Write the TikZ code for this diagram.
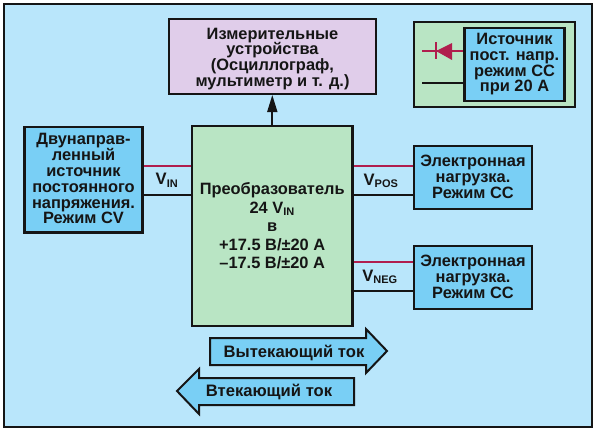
\documentclass[tikz,border=0pt]{standalone}
\usepackage{fontspec}
\setmainfont{Liberation Sans}
\usetikzlibrary{arrows.meta}
\definecolor{bgc}{HTML}{B9E6FB}
\definecolor{bluec}{HTML}{79CFF5}
\definecolor{greenc}{HTML}{B9E5C4}
\definecolor{purplec}{HTML}{E0CDEA}
\definecolor{redc}{HTML}{B01E4E}
\definecolor{inkc}{HTML}{151515}
\tikzset{
  x=1pt,y=-1pt,
  boxn/.style={draw=inkc,line width=2.4pt,inner sep=0pt,align=center,anchor=north west,text=inkc,font=\fontsize{16.4}{15.8}\selectfont\bfseries},
  bluebox/.style={boxn,fill=bluec},
  sz/.style 2 args={minimum width=#1pt,minimum height=#2pt},
  redline/.style={draw=redc,line width=1.9pt},
  blackline/.style={draw=inkc,line width=1.9pt},
  lbl/.style={text=inkc,inner sep=0pt,font=\fontsize{16.6}{18}\selectfont\bfseries},
  arrowshape/.style={draw=inkc,line width=2pt,fill=bluec,miter limit=10},
}
\newcommand{\subs}[1]{\textsubscript{\fontsize{11}{12}\selectfont #1}}
\begin{document}
\begin{tikzpicture}
\useasboundingbox (0,0) rectangle (596,431);
\fill[white] (0,0) rectangle (596,431);
\draw[draw=inkc,line width=2.4pt,fill=bgc] (4.2,4.2) rectangle (592.2,427);
\node[boxn,fill=purplec,sz={206.6}{74.6}] (meas) at (168,18) {\rule{0pt}{16pt}Измерительные\\устройства\\(Осциллограф,\\мультиметр и т. д.)};
\node[boxn,fill=greenc,sz={160.6}{199.6},font=\fontsize{16.4}{18.5}\selectfont\bfseries] (conv) at (190.7,125) {Преобразователь\\24 V\subs{IN}\\в\\+17.5 В/±20 А\\–17.5 В/±20 А};
\node[bluebox,sz={118}{105.3}] (src) at (23.3,126) {Двунаправ-\\ленный\\источник\\постоянного\\напряжения.\\Режим CV\rule[-2pt]{0pt}{2pt}};
\node[bluebox,sz={118.2}{62.6}] (load1) at (412.7,145) {Электронная\\нагрузка.\\Режим CC\rule[-2pt]{0pt}{2pt}};
\node[bluebox,sz={118.2}{62.6}] (load2) at (412.7,245) {Электронная\\нагрузка.\\Режим CC\rule[-2pt]{0pt}{2pt}};
\node[boxn,fill=greenc,sz={161}{84.6}] (panel) at (412.7,21) {};
\node[bluebox,sz={100}{72.9}] (isrc) at (463.3,26.7) {Источник\\пост. напр.\\режим CC\\при 20 А};
\coordinate (ya) at (0,166);
\coordinate (yb) at (0,195);
\coordinate (yc) at (0,262);
\coordinate (yd) at (0,291);
\coordinate (xa) at (272.3,0);
\draw[redline] (src.east|-ya) -- (conv.west|-ya);
\draw[blackline] (src.east|-yb) -- (conv.west|-yb);
\draw[redline] (conv.east|-ya) -- (load1.west|-ya);
\draw[blackline] (conv.east|-yb) -- (load1.west|-yb);
\draw[redline] (conv.east|-yc) -- (load2.west|-yc);
\draw[blackline] (conv.east|-yd) -- (load2.west|-yd);
\coordinate (ye) at (0,51);
\coordinate (yf) at (0,83);
\coordinate (pa) at (422,51);
\coordinate (pb) at (422,83);
\draw[redline] (pa) -- (isrc.west|-ye);
\draw[blackline] (pb) -- (isrc.west|-yf);
\fill[redc] (436,51) -- (452,43) -- (452,60) -- cycle;
\draw[redc,line width=1.9pt] (436,42) -- (436,59);
\draw[draw=inkc,line width=1.7pt,-{Triangle[length=17pt,width=10pt]}] (conv.north-|xa) -- (meas.south-|xa);
\node[lbl] (vin) at (167,180) {V\subs{IN}};
\node[lbl] (vpos) at (381,181) {V\subs{POS}};
\node[lbl] (vneg) at (380,277) {V\subs{NEG}};
\draw[arrowshape] (210,338) -- (366,338) -- (366,329) -- (387,351) -- (366,373) -- (366,365) -- (210,365) -- cycle;
\draw[arrowshape] (354,378) -- (199,378) -- (199,369) -- (177,391) -- (199,414) -- (199,405) -- (354,405) -- cycle;
\node[lbl] (out) at (294,353) {Вытекающий ток};
\node[lbl] (inw) at (269,392) {Втекающий ток};
\end{tikzpicture}
\end{document}
